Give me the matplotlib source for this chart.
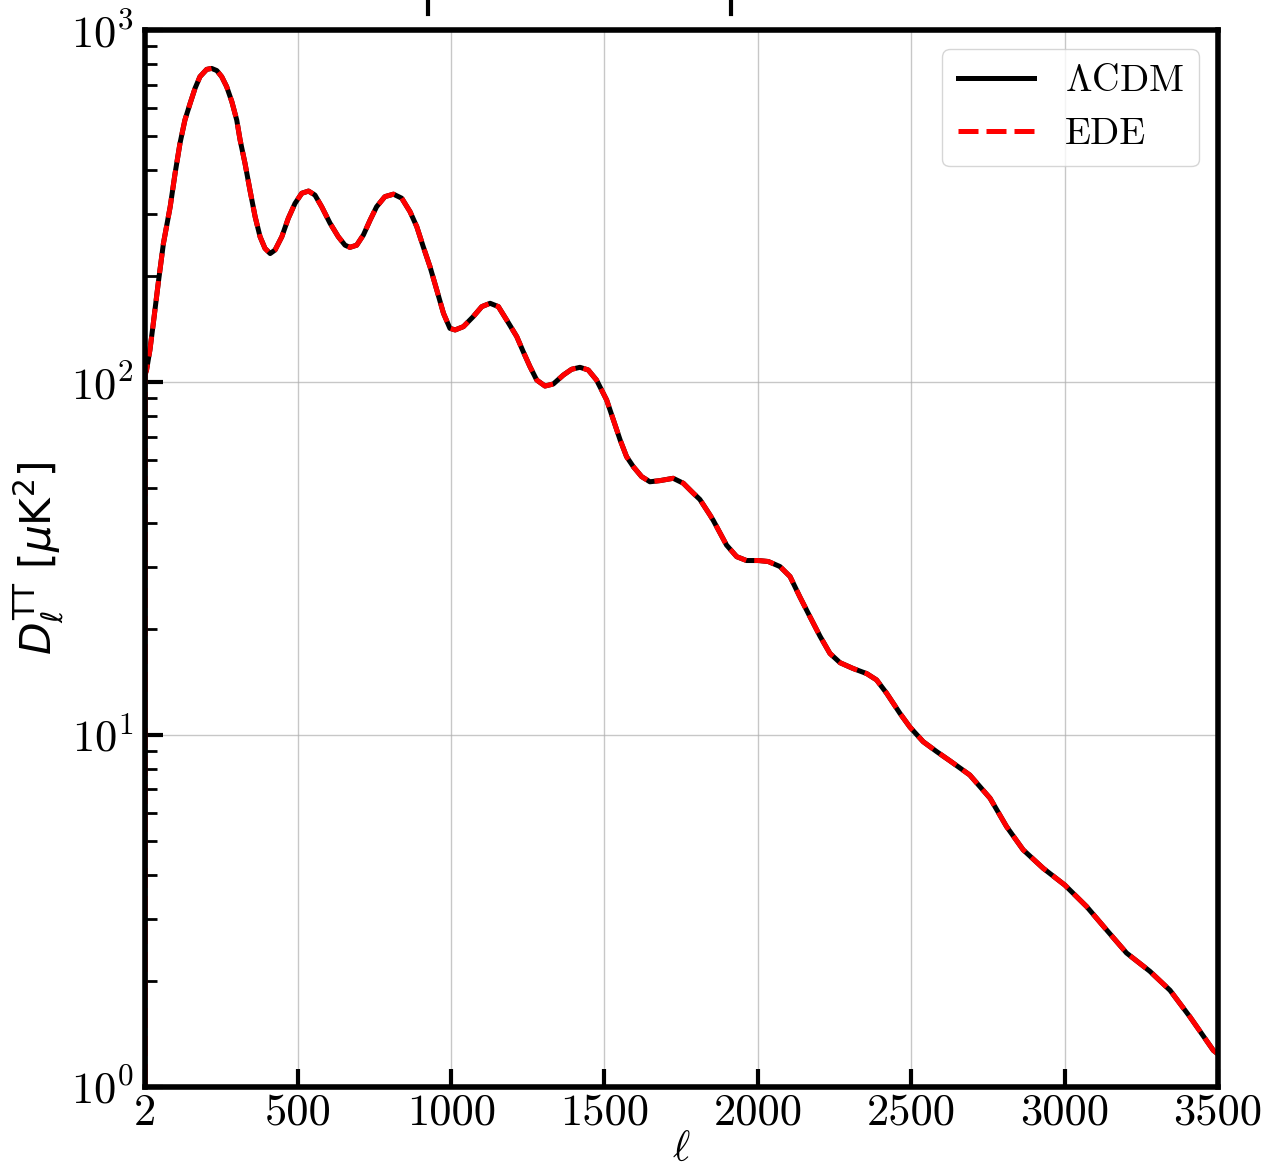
import matplotlib
matplotlib.use("Agg")
import matplotlib.pyplot as plt
from matplotlib.lines import Line2D

plt.rcParams['font.family'] = 'serif'
plt.rcParams['font.serif'] = ['cmr10', 'DejaVu Serif']
plt.rcParams['mathtext.fontset'] = 'cm'
plt.rcParams['axes.formatter.use_mathtext'] = True
plt.rcParams['axes.unicode_minus'] = False

# ---- data ----
ell = [1, 2, 7, 18, 29, 45, 62, 84, 100, 116, 132, 149, 165, 181, 203, 219, 236,
       252, 268, 285, 301, 312, 328, 344, 361, 377, 393, 410, 426, 448, 469, 491,
       513, 535, 556, 578, 605, 632, 654, 670, 692, 714, 736, 757, 784, 812, 839,
       866, 888, 909, 931, 953, 975, 996, 1013, 1040, 1072, 1100, 1127, 1154,
       1181, 1214, 1235, 1257, 1279, 1306, 1333, 1366, 1393, 1420, 1447, 1474,
       1507, 1529, 1551, 1572, 1594, 1621, 1648, 1681, 1724, 1757, 1790, 1811,
       1844, 1855, 1898, 1931, 1963, 2002, 2034, 2072, 2105, 2137, 2170, 2203,
       2235, 2268, 2311, 2355, 2387, 2420, 2463, 2496, 2539, 2583, 2626, 2691,
       2757, 2811, 2865, 2931, 3001, 3072, 3137, 3202, 3278, 3344, 3409, 3485,
       3500]
dl_lcdm = [0.0, 105, 108.4, 123.6, 147.1, 191, 248, 315, 392, 477, 555, 619,
           683, 737, 773, 778, 767, 737, 691, 626, 555, 487, 418, 351.5, 295,
           259, 240, 232, 237.5, 259, 292, 322, 344, 349, 340, 315, 283, 259,
           245, 241.6, 245, 262, 289, 315, 336.5, 342, 333, 305, 276.5, 242.7,
           213, 183, 157, 142.3, 140.8, 143.9, 153.6, 164, 167.6, 164, 150.3,
           134.8, 122.2, 110.8, 101.5, 97.6, 98.9, 104.9, 108.9, 110.3, 108.4,
           101.5, 89.1, 78.2, 68.6, 61.5, 57.6, 54.0, 52.2, 52.6, 53.4, 51.7,
           48.4, 46.5, 42.0, 40.5, 34.5, 32.0, 31.2, 31.2, 31.0, 30.0, 28.1,
           24.6, 21.6, 19.0, 17.0, 16.0, 15.4, 14.9, 14.3, 13.1, 11.5, 10.5,
           9.55, 8.95, 8.43, 7.68, 6.60, 5.48, 4.71, 4.17, 3.74, 3.25, 2.79,
           2.40, 2.13, 1.88, 1.58, 1.27, 1.24]
dl_ede = list(dl_lcdm)

xticks = [2, 500, 1000, 1500, 2000, 2500, 3000, 3500]
xticklabels = ['2', '500', '1000', '1500', '2000', '2500', '3000', '3500']
labels = [r'$\Lambda$CDM', 'EDE']

# ---- figure ----
fig = plt.figure(figsize=(12.7, 11.67), dpi=100)
ax = fig.add_axes([0.1142, 0.0686, 0.8448, 0.9057])

ax.plot(ell, dl_lcdm, color='black', lw=3.6, label=labels[0],
        solid_joinstyle='round')
ax.plot(ell, dl_ede, color='red', lw=3.6, ls='--', dashes=(4, 1.6),
        label=labels[1])

ax.set_yscale('log')
ax.set_xlim(2, 3500)
ax.set_ylim(1, 1000)
ax.set_xticks(xticks)
ax.set_xticklabels(xticklabels)

ax.grid(True, which='major', color='#b0b0b0', lw=1.0, alpha=0.7)

for s in ax.spines.values():
    s.set_linewidth(4)

ax.tick_params(axis='both', which='major', direction='in', length=13, width=3,
               labelsize=32, top=False, right=False)
ax.tick_params(axis='x', which='major', pad=5)
ax.tick_params(axis='y', which='major', pad=8)
ax.tick_params(axis='y', which='minor', direction='in', length=8.5, width=2,
               right=False)
ax.tick_params(axis='x', which='minor', bottom=False, top=False)

ax.set_xlabel(r'$\ell$', fontsize=30, labelpad=-2)
yl = ax.set_ylabel(r'$D_\ell^{\rm TT}$ [$\mu$K$^2$]', fontsize=30.5,
                   family='DejaVu Sans', labelpad=4)
yl.set_math_fontfamily('dejavusans')

leg = ax.legend(loc='upper right', fontsize=27.5, handlelength=2.0,
                borderaxespad=0.5)

# cropped tick marks from a panel above
for xf in (428 / 1270, 731 / 1270):
    fig.add_artist(Line2D([xf, xf], [1.0, 1 - 14 / 1167], color='black',
                          lw=3, transform=fig.transFigure))

fig.savefig('out.png', dpi=100)
